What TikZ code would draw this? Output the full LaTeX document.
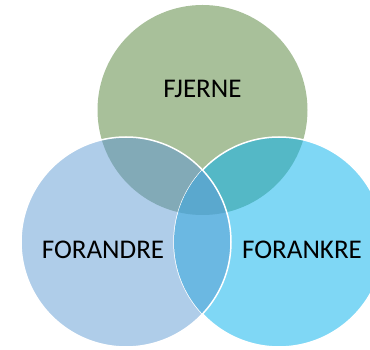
\documentclass[tikz,border=0pt]{standalone}
\usepackage{fontspec}
\setmainfont{Carlito}
\usetikzlibrary{positioning}

\definecolor{fjerneGreen}{HTML}{A8C09A}
\definecolor{forandreBlue}{HTML}{AFCDE9}
\definecolor{forankreCyan}{HTML}{7FD7F5}
\definecolor{mixTopLeft}{HTML}{82AAB7}
\definecolor{mixTopRight}{HTML}{54B8C6}
\definecolor{mixLeftRight}{HTML}{6BB8E2}
\definecolor{mixAll}{HTML}{5AA8CE}

\begin{document}
\begin{tikzpicture}[x=1pt, y=1pt,
    ring/.style={circle, draw=none, minimum size=210pt, inner sep=0pt},
    word/.style={rectangle, draw=none, text centered, text=black,
        font=\fontsize{27}{31}\selectfont},
    rim/.style={draw=white, line width=1.5pt}
    ]
    \useasboundingbox (0,0) rectangle (370,350);
    % the three rings
    \node (Fjerne) [ring, fill=fjerneGreen] at (202.5,240) {};
    \node (Forankre) [ring, fill=forankreCyan] at (279,108) {};
    \node (Forandre) [ring, fill=forandreBlue] at (126,108) {};
    % overlaps
    \begin{scope}
        \clip (Fjerne.center) circle [radius=105];
        \fill [mixTopLeft] (Forandre.center) circle [radius=105];
        \fill [mixTopRight] (Forankre.center) circle [radius=105];
    \end{scope}
    \draw [rim] (Forankre.center) circle [radius=105];
    \begin{scope}
        \clip (Forandre.center) circle [radius=105];
        \fill [mixLeftRight] (Forankre.center) circle [radius=105];
        \clip (Fjerne.center) circle [radius=105];
        \fill [mixAll] (Forankre.center) circle [radius=105];
    \end{scope}
    \draw [rim] (Forandre.center) circle [radius=105];
    % labels
    \node (FjerneText) [word] at ([yshift=21pt]Fjerne.center) {FJERNE};
    \node (ForandreText) [word] at ([xshift=-23pt, yshift=-8pt]Forandre.center) {FORANDRE};
    \node (ForankreText) [word] at ([xshift=23pt, yshift=-8pt]Forankre.center) {FORANKRE};
\end{tikzpicture}
\end{document}
